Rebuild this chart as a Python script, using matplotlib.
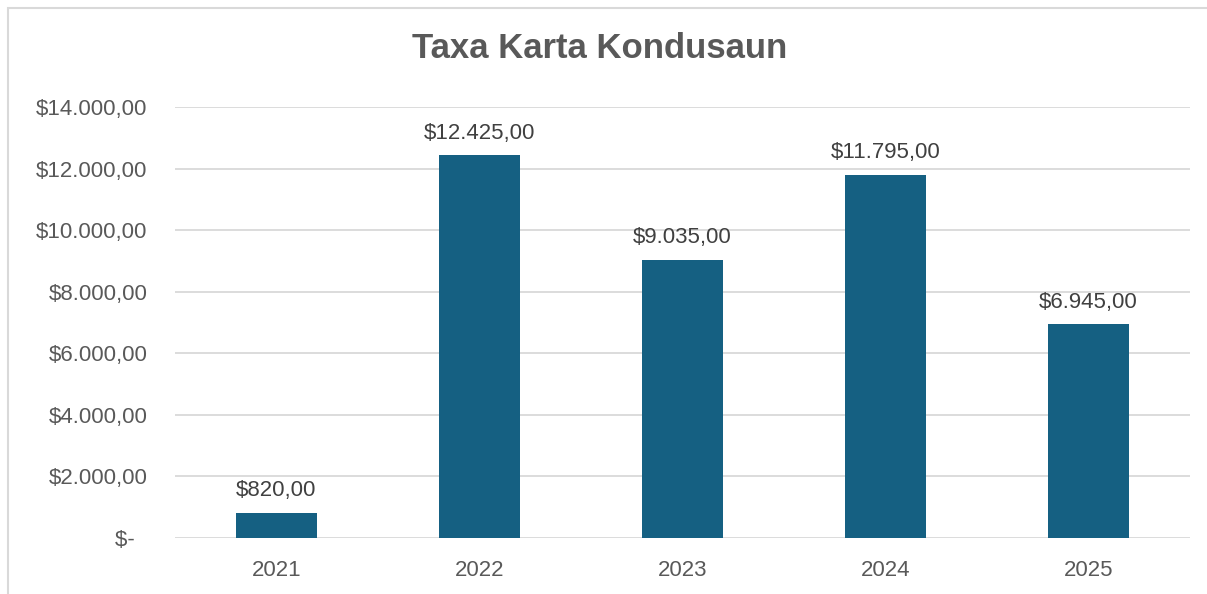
import matplotlib.pyplot as plt
from matplotlib.patches import Rectangle

plt.rcParams['font.family'] = ['Liberation Sans', 'DejaVu Sans']

# Data
years = ['2021', '2022', '2023', '2024', '2025']
values = [820, 12425, 9035, 11795, 6945]
y_ticks = [0, 2000, 4000, 6000, 8000, 10000, 12000, 14000]

bar_color = '#156082'
text_color = '#595959'
grid_color = '#d9d9d9'


def money(v):
    if v == 0:
        return '$-  '
    s = f'{v:,.2f}'
    s = s.replace(',', 'X').replace('.', ',').replace('X', '.')
    return '$' + s


fig = plt.figure(figsize=(12.07, 5.94), dpi=100)
ax = fig.add_axes([175 / 1207, 1 - 538 / 594, 1015 / 1207, 431 / 594])

x = range(len(years))
bars = ax.bar(x, values, width=0.4, color=bar_color, zorder=3)

ax.set_xlim(-0.5, len(years) - 0.5)
ax.set_ylim(0, 14000)
ax.set_yticks(y_ticks)
ax.set_yticklabels([money(v) for v in y_ticks])
ax.set_xticks(list(x))
ax.set_xticklabels(years)

ax.grid(axis='y', color=grid_color, linewidth=1.3, zorder=0)
for side in ['top', 'right', 'left', 'bottom']:
    ax.spines[side].set_visible(False)
ax.tick_params(length=0, labelsize=16, labelcolor=text_color)
ax.tick_params(axis='y', pad=20)
ax.tick_params(axis='x', pad=16)

for b, v in zip(bars, values):
    ax.annotate(money(v), (b.get_x() + b.get_width() / 2, v),
                xytext=(0, 12), textcoords='offset points',
                ha='center', va='baseline', fontsize=16, color='#404040')

fig.text(600 / 1207, 1 - 48 / 594, 'Taxa Karta Kondusaun', ha='center', va='center',
         fontsize=25, fontweight='bold', color=text_color)

# chart border (cropped at the right and bottom)
fig.patches.append(Rectangle((8 / 1207, -0.1), 1.1, 1 - 8 / 594 + 0.1,
                             transform=fig.transFigure, fill=False,
                             edgecolor='#d9d9d9', linewidth=1.5))

plt.savefig('out.png', dpi=100)
